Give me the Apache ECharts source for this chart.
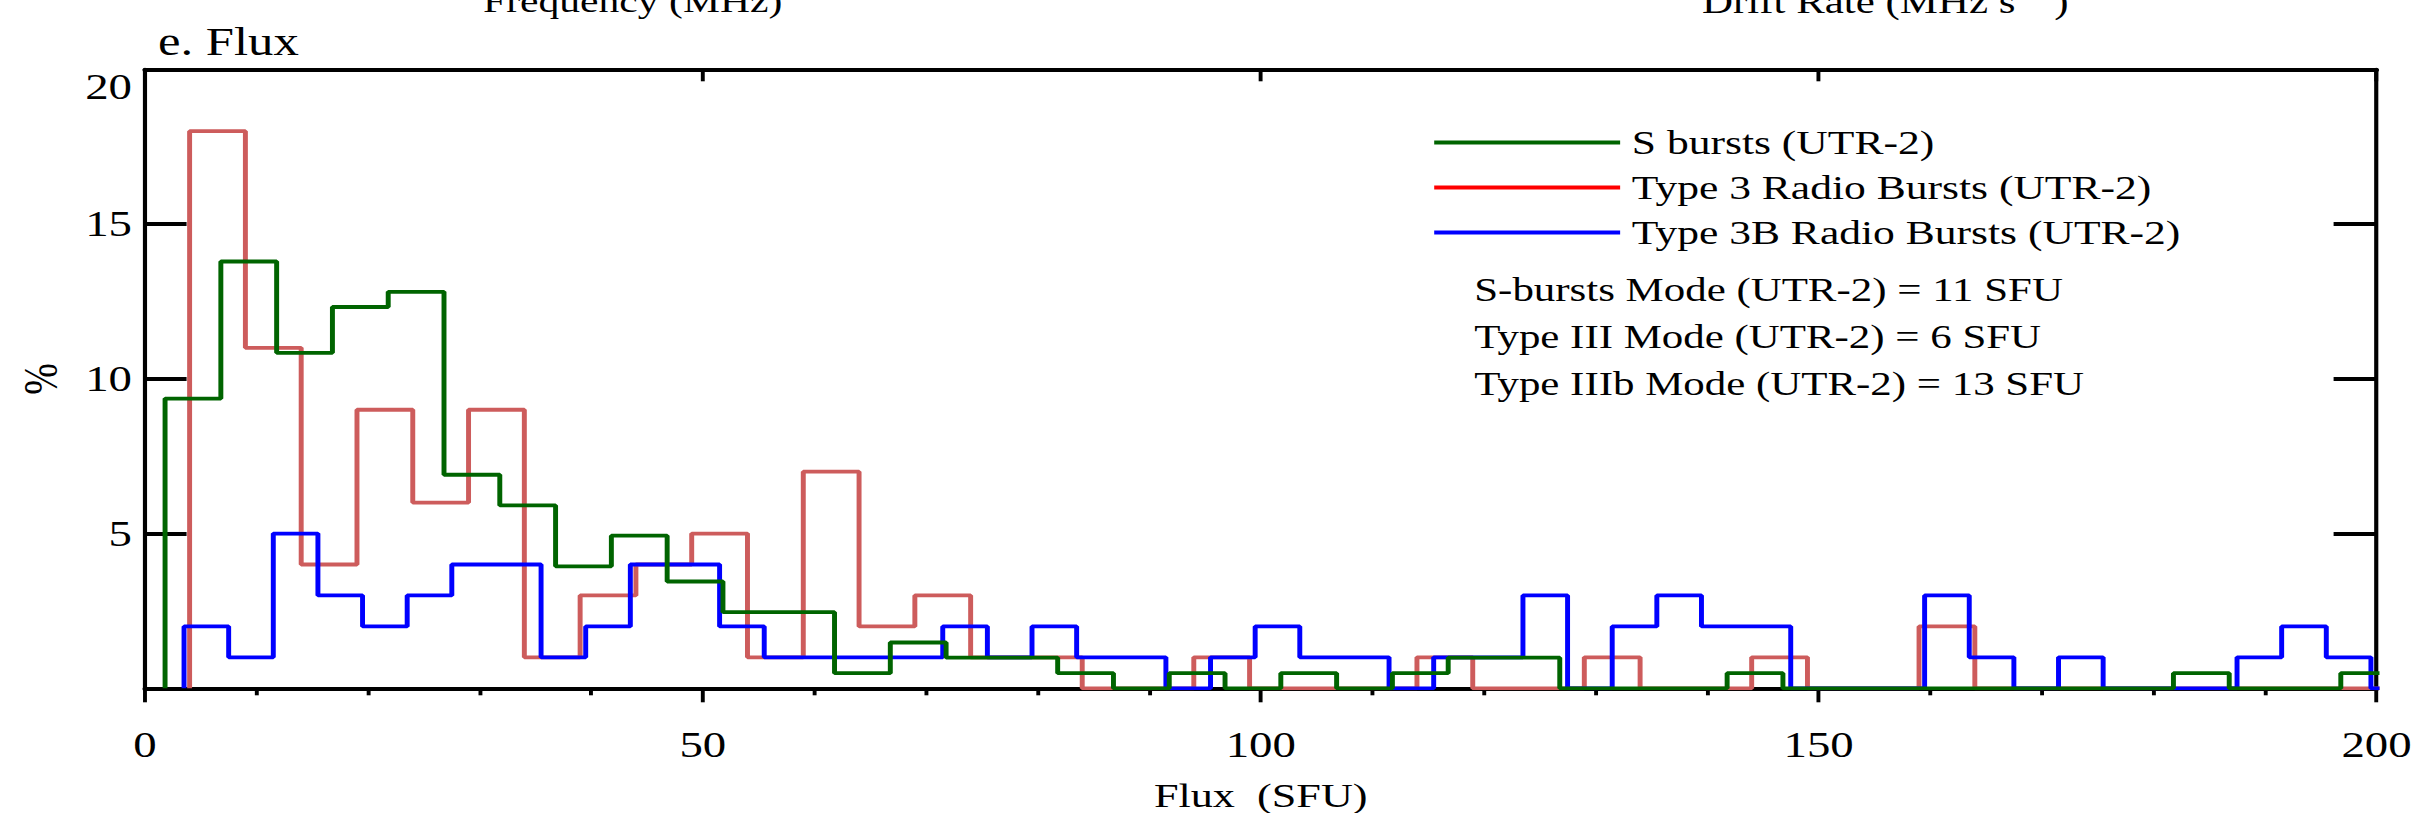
<!DOCTYPE html>
<html>
<head>
<meta charset="utf-8">
<title>e. Flux</title>
<script src="https://cdn.jsdelivr.net/npm/echarts@6/dist/echarts.min.js"></script>
<style>
  html, body { margin: 0; padding: 0; background: #fff; overflow: hidden; }
  /* the figure is stretched sideways, so draw narrow and scale it out */
  #chart { width: 1855px; height: 813px; transform-origin: 0 0; transform: scaleX(1.30027); }
</style>
</head>
<body>
<div id="chart"></div>
<script>
// bin edges (SFU) and heights (%)
var sStart = 1.8, sWidth = 5;
var sBursts = [9.36, 13.79, 10.84, 12.32, 12.81, 6.90, 5.91, 3.94, 4.93, 3.45,
    2.46, 2.46, 0.49, 1.48, 0.99, 0.99, 0.49, 0, 0.49, 0,
    0.49, 0, 0.49, 0.99, 0.99, 0, 0, 0, 0.49, 0,
    0, 0, 0, 0, 0, 0, 0.49, 0, 0, 0.49];

var t3Start = 4, t3Width = 5;
var type3 = [18, 11, 4, 9, 6, 9, 1, 3, 4, 5,
    1, 7, 2, 3, 1, 1, 0, 0, 1, 0,
    0, 0, 1, 0, 0, 1, 0, 0, 1, 0,
    0, 2, 0, 0, 0, 0, 0, 0, 0, 0];

var t3bStart = 3.5, t3bWidth = 4;
var type3b = [2, 1, 5, 3, 2, 3, 4, 4, 1, 2,
    4, 4, 2, 1, 1, 1, 1, 2, 1, 2,
    1, 1, 0, 1, 2, 1, 1, 0, 1, 1,
    3, 0, 2, 3, 2, 2, 0, 0, 0, 3,
    1, 0, 1, 0, 0, 0, 1, 2, 1, 0];

var seriesNames = ['S bursts (UTR-2)', 'Type 3 Radio Bursts (UTR-2)', 'Type 3B Radio Bursts (UTR-2)'];
var modeLines = ['S-bursts Mode (UTR-2) = 11 SFU', 'Type III Mode (UTR-2) = 6 SFU', 'Type IIIb Mode (UTR-2) = 13 SFU'];
var xTicks = [0, 50, 100, 150, 200];
var yTicks = [0, 5, 10, 15, 20];

var FONT = "'Liberation Serif', 'Times New Roman', serif";

// turn bins into the corner points of a step outline
function histLine(start, width, vals) {
    var pts = [[start, 0]];
    for (var i = 0; i < vals.length; i++) {
        var x0 = start + i * width;
        pts.push([x0, vals[i]]);
        pts.push([x0 + width, vals[i]]);
    }
    return pts;
}

function stepSeries(name, pts, color, lineColor, z) {
    return {
        name: name,
        type: 'line',
        data: pts,
        symbol: 'none',
        showSymbol: false,
        clip: true,
        z: z,
        itemStyle: {color: color},
        lineStyle: {color: lineColor, width: 3.8},
        emphasis: {disabled: true}
    };
}

function noteText(txt, x, y, size) {
    return {type: 'text', x: x, y: y, silent: true,
        style: {text: txt, font: size + 'px ' + FONT, fill: '#000', verticalAlign: 'middle', align: 'left'}};
}

var myChart = echarts.init(document.getElementById('chart'), null, {renderer: 'svg'});

// onZero off, otherwise the mirror axes jump onto the zero lines
var axisLineX = {show: true, onZero: false, lineStyle: {color: '#000', width: 4}};
var axisLineY = {show: true, onZero: false, lineStyle: {color: '#000', width: 3.2}};

var option = {
    animation: false,
    backgroundColor: '#fff',
    title: {
        text: 'e. Flux',
        left: 121.5,
        top: 23,
        padding: 0,
        textStyle: {fontFamily: FONT, fontSize: 39, fontWeight: 'normal', color: '#000'}
    },
    legend: {
        orient: 'vertical',
        left: 1103,
        top: 125.5,
        padding: 0,
        itemGap: 11,
        itemWidth: 143,
        itemHeight: 4,
        icon: 'rect',
        selectedMode: false,
        textStyle: {fontFamily: FONT, fontSize: 33.5, lineHeight: 33, color: '#000', padding: [0, 0, 0, 4]},
        data: [
            {name: seriesNames[0], itemStyle: {color: '#006400'}},
            {name: seriesNames[1], itemStyle: {color: '#ff0000'}},
            {name: seriesNames[2], itemStyle: {color: '#0000ff'}}
        ]
    },
    grid: {left: 111.5, right: 27.3, top: 69.3, bottom: 124.7, containLabel: false, outerBoundsMode: 'none'},
    xAxis: [{
        type: 'value',
        position: 'bottom',
        min: xTicks[0],
        max: xTicks[xTicks.length - 1],
        interval: xTicks[1] - xTicks[0],
        axisLine: axisLineX,
        axisTick: {show: true, inside: false, length: 14, lineStyle: {color: '#000', width: 3}},
        minorTick: {show: true, splitNumber: 5, length: 7, lineStyle: {color: '#000', width: 3}},
        splitLine: {show: false},
        axisLabel: {inside: false, fontFamily: FONT, fontSize: 36, color: '#000', margin: 39},
        name: 'Flux  (SFU)',
        nameLocation: 'middle',
        nameGap: 90,
        nameTextStyle: {fontFamily: FONT, fontSize: 34, color: '#000'}
    }, {
        type: 'value',
        position: 'top',
        min: xTicks[0],
        max: xTicks[xTicks.length - 1],
        interval: xTicks[1] - xTicks[0],
        axisLine: axisLineX,
        axisTick: {show: true, inside: true, length: 12, lineStyle: {color: '#000', width: 3}},
        axisLabel: {show: false},
        splitLine: {show: false}
    }],
    yAxis: [{
        type: 'value',
        position: 'left',
        min: yTicks[0],
        max: yTicks[yTicks.length - 1],
        interval: yTicks[1] - yTicks[0],
        axisLine: axisLineY,
        axisTick: {show: true, inside: true, length: 32, lineStyle: {color: '#000', width: 3.8}},
        splitLine: {show: false},
        axisLabel: {
            inside: false, fontFamily: FONT, fontSize: 36, color: '#000', margin: 10,
            showMinLabel: false, verticalAlignMaxLabel: 'top'
        },
        name: '%',
        nameLocation: 'middle',
        nameGap: 61,
        nameRotate: 90,
        nameTextStyle: {fontFamily: FONT, fontSize: 38, color: '#000'}
    }, {
        type: 'value',
        position: 'right',
        min: yTicks[0],
        max: yTicks[yTicks.length - 1],
        interval: yTicks[1] - yTicks[0],
        axisLine: axisLineY,
        axisTick: {show: true, inside: true, length: 33, lineStyle: {color: '#000', width: 3.8}},
        axisLabel: {show: false},
        splitLine: {show: false}
    }],
    graphic: [
        // axis titles of the panels above, cut by the top edge as in the figure
        noteText('Frequency (MHz)', 371.5, 1.5, 32),
        {type: 'text', x: 1309, y: 1.5, silent: true,
            style: {text: 'Drift Rate (MHz s{sup|\u22121})', font: '33px ' + FONT, fill: '#000', verticalAlign: 'middle', align: 'left',
                rich: {sup: {fontSize: 28, fontFamily: FONT, padding: [0, 0, 24, 0]}}}},
        // mode notes
        noteText(modeLines[0], 1133.8, 289.5, 33),
        noteText(modeLines[1], 1133.8, 336.5, 33),
        noteText(modeLines[2], 1133.8, 383.5, 33)
    ],
    series: [
        stepSeries(seriesNames[0], histLine(sStart, sWidth, sBursts), '#006400', '#006400', 4),
        stepSeries(seriesNames[1], histLine(t3Start, t3Width, type3), '#ff0000', '#cd5c5c', 2),
        stepSeries(seriesNames[2], histLine(t3bStart, t3bWidth, type3b), '#0000ff', '#0000ff', 3)
    ]
};

myChart.setOption(option);
</script>
</body>
</html>
